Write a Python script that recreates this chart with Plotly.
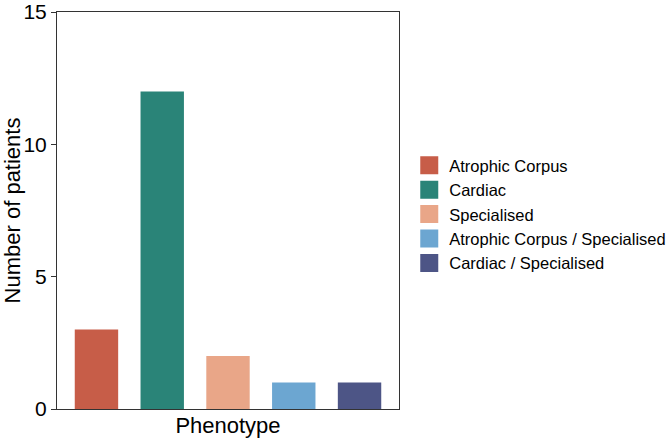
import plotly.graph_objects as go

phenotypes = ["Atrophic Corpus", "Cardiac", "Specialised",
              "Atrophic Corpus / Specialised", "Cardiac / Specialised"]
patients = [3, 12, 2, 1, 1]
colours = ["#C75D48", "#2A8478", "#E9A688", "#6CA6D1", "#4D5586"]

fig = go.Figure()
for name, n, c in zip(phenotypes, patients, colours):
    fig.add_trace(go.Bar(x=[name], y=[n], name=name, legendgroup=name, showlegend=False,
                         marker=dict(color=c, line=dict(width=0))))
    # legend-only entry so the swatch is a bigger square, like the original
    fig.add_trace(go.Scatter(x=[None], y=[None], mode="markers", name=name, legendgroup=name,
                             marker=dict(symbol="square", size=16, color=c,
                                         line=dict(color=c, width=2))))

axis_col = "#333333"
fig.update_layout(
    width=667, height=440,
    margin=dict(l=57, r=268, t=12, b=31, autoexpand=False),
    plot_bgcolor="white", paper_bgcolor="white",
    font=dict(family="Liberation Sans, Arial, sans-serif", color="black"),
    bargap=0.34,
    showlegend=True,
    legend=dict(x=1.03, y=0.49, yanchor="middle", font=dict(size=16.5),
                itemsizing="trace", tracegroupgap=0, itemwidth=30),
)
fig.update_xaxes(
    categoryorder="array", categoryarray=phenotypes,
    range=[-0.6, 4.6], showticklabels=False, ticks="",
    showline=True, linecolor=axis_col, linewidth=1, mirror=True,
    showgrid=False, zeroline=False,
    title=dict(text="Phenotype", font=dict(size=22), standoff=8),
)
fig.update_yaxes(
    range=[0, 15], tickvals=[0, 5, 10, 15], ticks="outside", ticklen=5,
    tickcolor=axis_col, tickfont=dict(size=21),
    showline=True, linecolor=axis_col, linewidth=1, mirror=True,
    showgrid=False, zeroline=False,
    title=dict(text="Number of patients", font=dict(size=22), standoff=4),
)

# page has a default 8px body margin; drop it so the figure sits at 0,0
fig.write_html("out.html", config={"displayModeBar": False},
               post_script="document.body.style.margin='0';")
